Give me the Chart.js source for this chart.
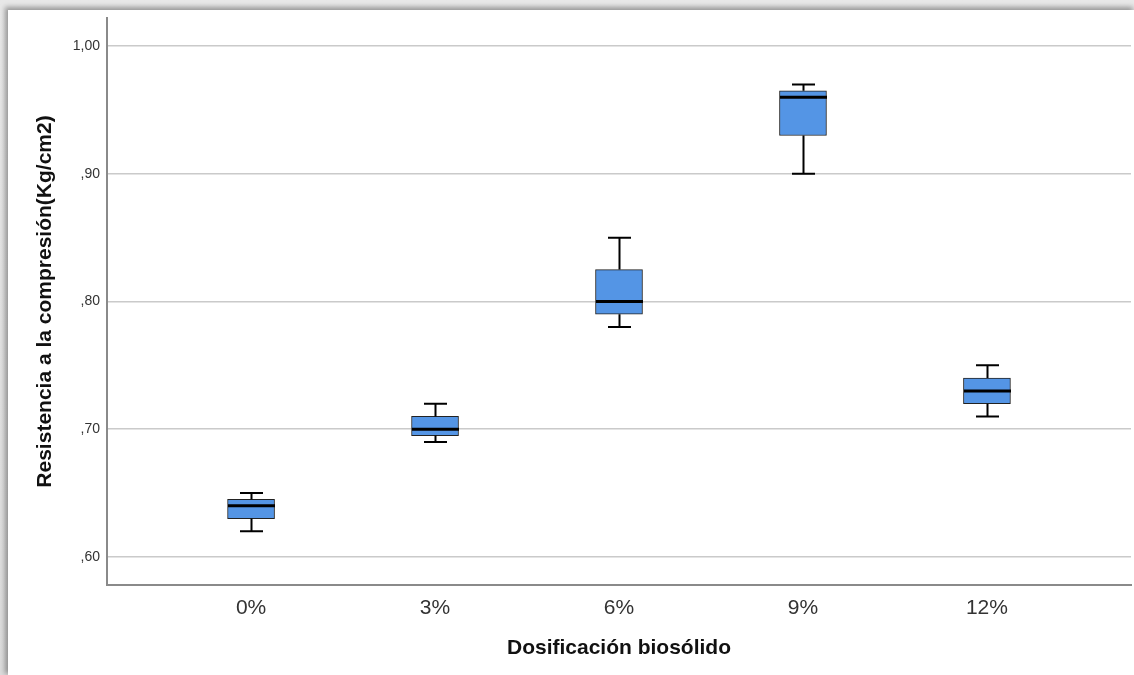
<!DOCTYPE html>
<html>
<head>
<meta charset="utf-8">
<script src="https://cdn.jsdelivr.net/npm/chart.js@4"></script>
<style>
  html, body { margin: 0; padding: 0; }
  body {
    width: 1134px; height: 675px; overflow: hidden;
    background: linear-gradient(to bottom, #e8e8e8, #dcdcdc);
  }
  #frame {
    position: absolute; left: 8px; top: 10px;
    width: 1126px; height: 665px;
    background: #fff;
    box-shadow: -2px -2px 5px 1px rgba(0, 0, 0, 0.35);
  }
</style>
</head>
<body>
<div id="frame"><canvas id="chart"></canvas></div>
<script>
const categories = ['0%', '3%', '6%', '9%', '12%'];
const minVals    = [0.62, 0.69, 0.78, 0.90, 0.71];
const q1Vals     = [0.63, 0.695, 0.79, 0.93, 0.72];
const medianVals = [0.64, 0.70, 0.80, 0.96, 0.73];
const q3Vals     = [0.645, 0.71, 0.825, 0.965, 0.74];
const maxVals    = [0.65, 0.72, 0.85, 0.97, 0.75];
const yTicks     = [0.60, 0.70, 0.80, 0.90, 1.00];

const boxWidth = 47;
const capWidth = 23;

// SPSS style: "1,00", ",90"
const fmt = v => v.toFixed(2).replace('.', ',').replace(/^0/, '');

const whiskerPlugin = {
    id: 'whiskers',
    afterDatasetsDraw(chart) {
        const { ctx, scales: { x, y } } = chart;
        ctx.save();
        ctx.strokeStyle = '#000';
        categories.forEach((c, i) => {
            const cx = Math.round(x.getPixelForValue(i)) + 0.5;
            const yMin = y.getPixelForValue(minVals[i]);
            const yMax = y.getPixelForValue(maxVals[i]);
            const yQ1 = y.getPixelForValue(q1Vals[i]);
            const yQ3 = y.getPixelForValue(q3Vals[i]);
            const yMed = y.getPixelForValue(medianVals[i]);

            ctx.lineWidth = 2;
            ctx.beginPath();
            ctx.moveTo(cx, yQ3); ctx.lineTo(cx, yMax);
            ctx.moveTo(cx, yQ1); ctx.lineTo(cx, yMin);
            ctx.moveTo(cx - capWidth / 2, yMax); ctx.lineTo(cx + capWidth / 2, yMax);
            ctx.moveTo(cx - capWidth / 2, yMin); ctx.lineTo(cx + capWidth / 2, yMin);
            ctx.stroke();

            ctx.lineWidth = 3;
            ctx.beginPath();
            ctx.moveTo(cx - boxWidth / 2, yMed); ctx.lineTo(cx + boxWidth / 2, yMed);
            ctx.stroke();
        });
        ctx.restore();
    }
};

new Chart(document.getElementById('chart'), {
    type: 'bar',
    data: {
        datasets: [{
            data: categories.map((c, i) => ({ x: i, y: [q1Vals[i], q3Vals[i]] })),
            backgroundColor: '#5495e5',
            borderColor: '#222',
            borderWidth: 1,
            borderSkipped: false,
            barThickness: boxWidth
        }]
    },
    options: {
        responsive: true,
        maintainAspectRatio: false,
        animation: false,
        layout: { padding: { top: 8, right: 3, bottom: 10, left: 0 } },
        plugins: {
            legend: { display: false },
            tooltip: { enabled: false }
        },
        scales: {
            x: {
                type: 'linear',
                offset: false,
                min: -0.783,
                max: 4.783,
                afterBuildTicks: s => { s.ticks = categories.map((c, i) => ({ value: i })); },
                afterFit: s => { s.height = 80; s.paddingLeft = 0; s.paddingRight = 0; },
                grid: { display: false, drawTicks: false, offset: false },
                border: { display: true, color: '#8a8a8a', width: 2 },
                ticks: {
                    padding: 11,
                    color: '#333',
                    font: { family: 'Liberation Sans, Arial', size: 21 },
                    callback: v => categories[v]
                },
                title: {
                    display: true,
                    text: 'Dosificación biosólido',
                    color: '#111',
                    padding: { top: 0, bottom: 4 },
                    font: { family: 'Liberation Sans, Arial', size: 21, weight: 'bold' }
                }
            },
            y: {
                min: 0.578,
                max: 1.022,
                afterBuildTicks: s => { s.ticks = yTicks.map(v => ({ value: v })); },
                afterFit: s => { s.width = 99; s.paddingTop = 0; s.paddingBottom = 0; },
                grid: { color: '#cacaca', lineWidth: 1.5, drawTicks: false },
                border: { display: true, color: '#8a8a8a', width: 2 },
                ticks: {
                    padding: 7,
                    color: '#333',
                    font: { family: 'Liberation Sans, Arial', size: 14 },
                    callback: v => fmt(v)
                },
                title: {
                    display: true,
                    text: 'Resistencia a la compresión(Kg/cm2)',
                    color: '#111',
                    padding: { top: 25, bottom: 0 },
                    font: { family: 'Liberation Sans, Arial', size: 21, weight: 'bold' }
                }
            }
        }
    },
    plugins: [whiskerPlugin]
});
</script>
</body>
</html>
